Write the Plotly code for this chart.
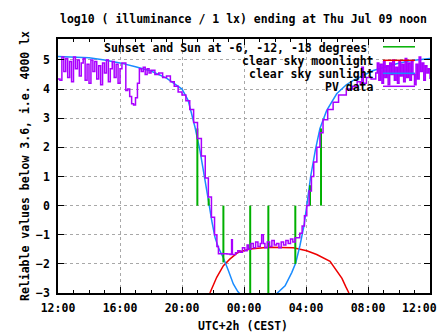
import plotly.graph_objects as go

# ---------------- data (hours after Wed 12:00 CEST) ----------------
sun_h = [0, 1, 2, 3, 4, 5, 6, 7, 7.5, 8, 8.4, 8.84, 9.16, 9.48, 9.7, 9.92, 10.13,
         10.34, 10.67, 10.99, 11.31, 11.6, 11.85, 12.2,
         13.8, 14.11, 14.65, 15.08, 15.34, 15.61, 15.87, 16.05, 16.3, 16.6, 16.9,
         17.33, 17.98, 18.6, 19.05, 20.34, 21.85, 22.7, 23.8, 24]
sun_v = [5.12, 5.11, 5.08, 5.0, 4.9, 4.77, 4.62, 4.38, 4.2, 4.0, 3.61, 2.69, 1.89, 0.97, 0.2, -0.52, -1.09,
         -1.43, -1.8, -2.23, -2.69, -2.95, -3.1, -3.4,
         -3.4, -3.02, -2.75, -2.3, -1.96, -1.37, -0.69, 0.0, 1.0, 1.9, 2.65,
         3.26, 3.84, 4.15, 4.3, 4.64, 4.87, 4.97, 5.04, 5.05]

moon_h = [9.8, 10.24, 10.67, 11.1, 11.63, 12.39, 13.57, 15.18, 16.05, 16.69, 17.55, 17.87, 18.32, 18.58, 18.77]
moon_v = [-3.0, -2.46, -2.06, -1.83, -1.6, -1.49, -1.43, -1.45, -1.55, -1.68, -1.91, -2.15, -2.5, -2.8, -3.0]

# Sunset / sunrise and Sun at -6, -12, -18 degrees
event_h = [8.99, 9.72, 10.67, 12.40, 13.57, 15.31, 16.26, 16.97]
event_top = [2.65, 0.25, -1.95, -3.0, -3.0, -2.0, 0.7, 2.65]

pv_h = [0.0, 0.125, 0.25, 0.375, 0.5, 0.625, 0.75, 0.875, 1.0, 1.125, 1.25, 1.375, 1.5, 1.625,
        1.75, 1.875, 2.0, 2.125, 2.25, 2.375, 2.5, 2.625, 2.75, 2.875, 3.0, 3.125, 3.25, 3.375,
        3.5, 3.625, 3.75, 3.875, 4.0, 4.125, 4.25, 4.375, 4.5, 4.625, 4.75, 4.875, 5.0, 5.125,
        5.25, 5.375, 5.5, 5.625, 5.75, 5.875, 6.0, 6.25, 6.5, 6.75, 7.0, 7.25, 7.5, 7.75,
        8.0, 8.25, 8.5, 8.75, 9.0, 9.25, 9.5, 9.7, 9.9, 10.1, 10.25, 10.35,
        10.6, 10.9, 11.1, 11.15, 11.2, 11.25, 11.3, 11.45, 11.6, 11.75, 11.9, 12.05, 12.2,
        12.3, 12.45, 12.6, 12.75, 12.9, 13.05, 13.14, 13.25, 13.35, 13.5, 13.65, 13.8, 13.95,
        14.1, 14.25, 14.4, 14.55, 14.7, 14.85, 15.0, 15.15, 15.3, 15.45, 15.6, 15.75, 15.9,
        16.05, 16.2, 16.35, 16.5, 16.7, 16.9, 17.1, 17.4, 17.75, 18.1, 18.6, 19.0, 19.3,
        19.5, 19.6, 19.7, 19.9, 20.2, 20.5, 20.6, 20.7, 20.8, 20.9, 21.0, 21.1, 21.2, 21.3,
        21.4, 21.5, 21.6, 21.7, 21.8, 21.9, 22.0, 22.1, 22.2, 22.3, 22.4, 22.5, 22.6, 22.7,
        22.8, 22.9, 23.0, 23.1, 23.2, 23.3, 23.4, 23.5, 23.6, 23.7, 23.8, 23.9, 24.0]
pv_v = [4.35, 4.3, 5.1, 4.6, 5.05, 4.4, 4.95, 4.25, 5.1, 4.7, 5.0, 4.45, 4.9, 5.05,
        4.3, 4.85, 4.2, 5.0, 4.6, 4.95, 4.35, 4.8, 4.15, 4.9, 4.55, 5.0, 4.25, 4.7,
        4.95, 4.4, 4.85, 4.2, 4.7, 4.9, 4.9, 3.95, 4.0, 3.75, 3.5, 3.45, 3.7, 4.2,
        4.7, 4.6, 4.75, 4.5, 4.7, 4.55, 4.65, 4.5, 4.55, 4.4, 4.45, 4.25, 4.1, 3.9,
        3.8, 3.6, 3.3, 2.85, 2.3, 1.7, 0.95, 0.3, -0.4, -1.0, -1.4, -1.65,
        -1.65, -1.66, -1.68, -1.68, -1.17, -1.68, -1.68, -1.62, -1.55, -1.6, -1.45, -1.55, -1.35,
        -1.5, -1.3, -1.45, -1.25, -1.4, -1.3, -1.0, -1.3, -1.45, -1.25, -1.4, -1.2, -1.35,
        -1.3, -1.45, -1.25, -1.35, -1.2, -1.3, -1.15, -1.25, -1.1, -1.1, -0.95, -0.7, -0.35,
        0.0, 0.5, 1.0, 1.5, 2.0, 2.5, 2.95, 3.3, 3.55, 3.8, 4.0, 4.1, 4.25,
        4.15, 4.75, 4.2, 4.4, 4.35, 4.55, 4.9, 4.3, 4.85, 4.2, 4.95, 4.4, 4.8, 4.15,
        4.9, 4.5, 5.0, 4.3, 4.75, 4.2, 4.95, 4.45, 4.85, 4.25, 5.05, 4.4, 4.9, 4.3,
        4.95, 4.5, 4.15, 4.85, 4.35, 5.1, 4.6, 4.9, 4.3, 4.8, 4.55, 4.7, 4.35]

tick_vals = [0, 4, 8, 12, 16, 20, 24]
tick_text = ["12:00", "16:00", "20:00", "00:00", "04:00", "08:00", "12:00"]

legend_labels = ["Sunset and Sun at -6, -12, -18 degrees", "clear sky moonlight",
                 "clear sky sunlight", "PV data"]

# ---------------- styles ----------------
C_GREEN = "#00b000"
C_RED = "#ee0000"
C_BLUE = "#1a8cff"
C_PURPLE = "#aa00ff"
FONT = dict(family="DejaVu Sans Mono", size=11.5, color="black", weight="bold")

fig = go.Figure()

ex, ey = [], []
for t, top in zip(event_h, event_top):
    ex += [t, t, None]
    ey += [0, top, None]

fig.add_trace(go.Scatter(x=moon_h, y=moon_v, mode="lines", line=dict(color=C_RED, width=1.5)))
fig.add_trace(go.Scatter(x=sun_h, y=sun_v, mode="lines", line=dict(color=C_BLUE, width=1.5)))
fig.add_trace(go.Scatter(x=ex, y=ey, mode="lines", line=dict(color=C_GREEN, width=2)))
fig.add_trace(go.Scatter(x=pv_h, y=pv_v, mode="lines", line=dict(color=C_PURPLE, width=1.5, shape="hv")))

W, H = 447, 335
L, R, T, B = 58, 17, 39, 42
pw, ph = W - L - R, H - T - B


def px(x):
    return (x - L) / pw


def py(y):
    return (H - B - y) / ph


axis_common = dict(showline=True, linecolor="black", linewidth=1.5, mirror="ticks",
                   ticks="inside", tickcolor="black", tickwidth=1,
                   showgrid=True, gridcolor="#a8a8a8", griddash="3px,3px", gridwidth=1,
                   zeroline=False, tickfont=FONT)

# the last tick label is drawn shifted left (as in the original) so it fits the page
shown_text = tick_text[:-1] + [""]
fig.update_xaxes(range=[0, 24], tickvals=tick_vals, ticktext=shown_text, ticklen=6,
                 ticklabelstandoff=3,
                 minor=dict(dtick=1, ticks="inside", ticklen=3, tickcolor="black", showgrid=False),
                 **axis_common)
fig.update_yaxes(range=[-3, 5.72], tickvals=list(range(-3, 6)), ticklen=6,
                 ticklabelstandoff=4, **axis_common)

# white panel behind legend text that hides the grid (data stays on top)
fig.add_shape(type="rect", xref="paper", yref="paper", x0=px(104), x1=px(421),
              y0=py(92), y1=1, fillcolor="white", line_width=0, layer="between")

annos = [
    dict(text="log10 ( illuminance / 1 lx) ending at Thu Jul 09 noon", x=px(243), y=py(19),
         xanchor="center", yanchor="middle"),
    dict(text="UTC+2h (CEST)", x=px(243), y=py(326), xanchor="center", yanchor="middle"),
    dict(text="Reliable values below 3.6, i.e. 4000 lx", x=px(25), y=py(166),
         xanchor="center", yanchor="middle", textangle=-90),
    dict(text=tick_text[-1], x=px(419), y=py(307.5), xanchor="center", yanchor="middle"),
]
rows_y = [47.5, 61, 74, 87]
rows_right = [369, 376, 376, 376]
colors = [C_GREEN, C_RED, C_BLUE, C_PURPLE]
for lab, yy, rr, col in zip(legend_labels, rows_y, rows_right, colors):
    annos.append(dict(text=lab, x=px(rr), y=py(yy), xanchor="right", yanchor="middle"))
    fig.add_shape(type="line", xref="paper", yref="paper", x0=px(383), x1=px(415),
                  y0=py(yy - 0.7), y1=py(yy - 0.7), line=dict(color=col, width=1.5))
for a in annos:
    a.update(xref="paper", yref="paper", showarrow=False, font=FONT)
fig.update_layout(annotations=annos)

fig.update_layout(width=W, height=H, margin=dict(l=L, r=R, t=T, b=B),
                  paper_bgcolor="white", plot_bgcolor="white", showlegend=False)

fig.write_html("out.html")
